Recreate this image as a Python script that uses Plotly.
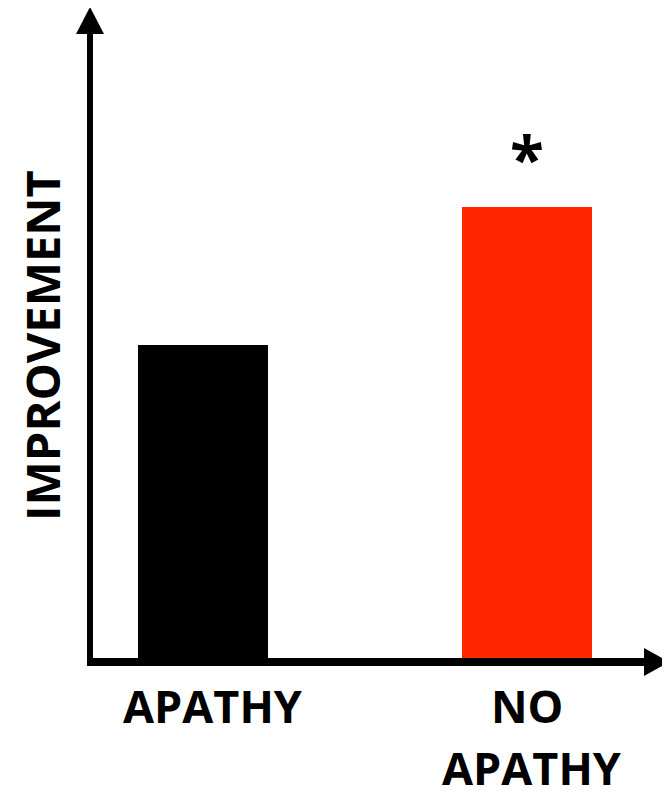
import plotly.graph_objects as go

# Data
categories = ["APATHY", "NO APATHY"]
label_lines = [["APATHY"], ["NO", "APATHY"]]
values = [48.5, 69.6]
colors = ["#000000", "#FF2600"]
y_title = "IMPROVEMENT"
sig_marker = "*"

OFF = 8  # page body margin
W, H = 670 - OFF, 798 - OFF
X0, Y0 = 90, 662  # page pixel of axes origin
L, R, T, B = X0 - OFF, 2, 0, H - (Y0 - OFF)
PW, PH = W - L - R, H - T - B


def px(x):
    return (x - X0) / PW


def py(y):
    return (Y0 - y) / PH


FONT = "Open Sans"
FS = 45

xpos = [0, 1]
fig = go.Figure()
fig.add_trace(go.Bar(
    x=xpos, y=values, width=0.402,
    marker=dict(color=colors, line=dict(width=0)),
    showlegend=False, hoverinfo="skip",
))

shapes = [
    dict(type="line", xref="paper", yref="paper", x0=px(90), x1=px(90), y0=py(666), y1=py(30),
         line=dict(color="black", width=6)),
    dict(type="line", xref="paper", yref="paper", x0=px(87), x1=px(648), y0=py(662), y1=py(662),
         line=dict(color="black", width=8)),
    dict(type="path", xref="paper", yref="paper",
         path=f"M {px(76)} {py(34)} L {px(90)} {py(7)} L {px(104)} {py(34)} Z",
         fillcolor="black", line=dict(width=0)),
    dict(type="path", xref="paper", yref="paper",
         path=f"M {px(644)} {py(648)} L {px(669)} {py(662)} L {px(644)} {py(676)} Z",
         fillcolor="black", line=dict(width=0)),
]

annotations = []
label_y = [705, 767]
shifts = [[10], [0, 5]]
for xi, lines, sh in zip(xpos, label_lines, shifts):
    for j, t in enumerate(lines):
        annotations.append(dict(
            x=xi, xref="x", y=py(label_y[j]), yref="paper", text=f"<b>{t}</b>",
            showarrow=False, xanchor="center", yanchor="middle",
            font=dict(family=FONT, size=FS, color="black"),
            xshift=sh[j],
        ))
annotations.append(dict(
    x=px(42), xref="paper", y=py(346), yref="paper", text=f"<b>{y_title}</b>",
    textangle=-90, showarrow=False, xanchor="center", yanchor="middle",
    font=dict(family=FONT, size=47, color="black"),
))
annotations.append(dict(
    x=1, xref="x", y=values[1], yref="y", text=f"<b>{sig_marker}</b>",
    showarrow=False, xanchor="center", yanchor="bottom", yshift=5,
    font=dict(family=FONT, size=62, color="black"),
))

fig.update_layout(
    width=W, height=H,
    margin=dict(l=L, r=R, t=T, b=B, pad=0),
    paper_bgcolor="white", plot_bgcolor="white",
    xaxis=dict(range=[-0.349, 1.437], visible=False, fixedrange=True),
    yaxis=dict(range=[0, 100], visible=False, fixedrange=True),
    shapes=shapes, annotations=annotations,
    bargap=0,
)

fig.write_html("out.html")
